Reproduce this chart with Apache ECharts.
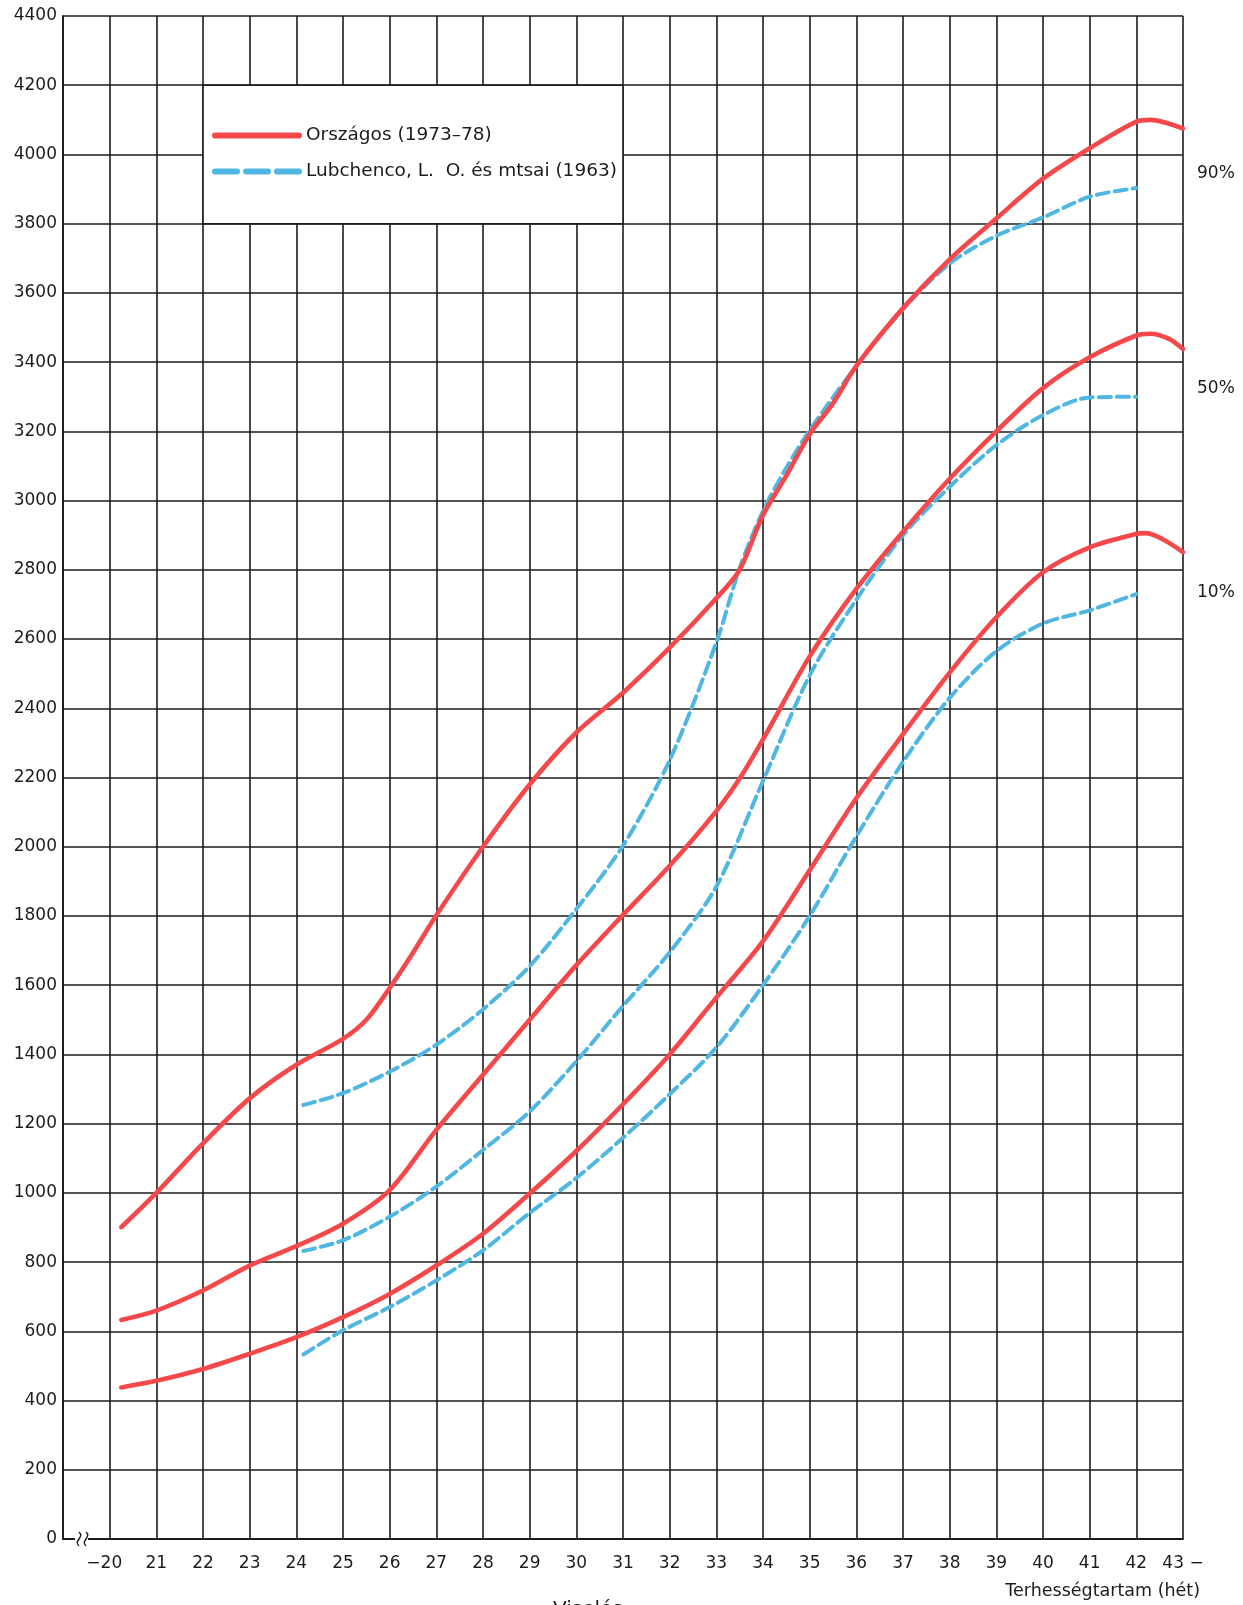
<!DOCTYPE html>
<html>
<head>
<meta charset="utf-8">
<script src="https://cdn.jsdelivr.net/npm/echarts@6/dist/echarts.min.js"></script>
<style>
html,body{margin:0;padding:0;background:#ffffff;}
#chart{width:1243px;height:1605px;}
</style>
</head>
<body>
<div id="chart"></div>
<script>
// ---- data (weeks of gestation -> birth weight, g) ----
const redName = 'Országos (1973–78)';
const blueName = 'Lubchenco, L.  O. és mtsai (1963)';

const red90Weeks = [20.25,21,22,23,24,25,25.5,26,26.5,27,28,29,30,31,32,33,33.5,34,34.5,35,35.5,36,37,38,39,40,41,42,42.3,43];
const red90 = [901,1000,1143,1273,1370,1445,1500,1592,1694,1802,2000,2180,2330,2445,2575,2718,2800,2958,3072,3192,3281,3389,3556,3697,3815,3930,4018,4095,4100,4075];

const red50Weeks = [20.25,21,22,23,24,25,26,27,28,29,30,31,32,33,33.5,34,35,36,37,38,39,40,41,42,42.3,42.7,43];
const red50 = [633,660,718,790,846,911,1008,1182,1341,1500,1658,1803,1945,2103,2197,2310,2550,2745,2910,3063,3200,3325,3414,3477,3482,3467,3438];

const red10Weeks = [20.25,21,22,23,24,25,26,27,28,29,30,31,32,33,34,35,36,37,38,39,40,41,42,42.2,43];
const red10 = [438,457,491,535,583,641,708,790,882,998,1121,1256,1400,1564,1727,1932,2140,2325,2503,2663,2793,2865,2904,2906,2851];

const blue90Weeks = [24.15,25,26,27,28,29,30,31,32,33,33.5,34,34.5,35,36,37,38,39,40,41,42];
const blue90 = [1254,1288,1350,1428,1530,1655,1820,2003,2250,2590,2805,2970,3095,3203,3389,3553,3685,3765,3818,3878,3903];

const blue50Weeks = [24.15,25,26,27,28,29,30,31,32,33,34,35,36,37,38,39,40,41,42];
const blue50 = [832,863,931,1018,1124,1235,1380,1540,1695,1885,2190,2495,2714,2900,3040,3160,3247,3298,3300];

const blue10Weeks = [24.15,25,26,27,28,29,30,31,32,33,34,35,36,37,38,39,40,41,42];
const blue10 = [533,603,670,747,834,942,1043,1159,1285,1420,1600,1800,2030,2245,2430,2565,2645,2683,2730];

const pctLabels = ['90%','50%','10%'];
const pctLabelValues = [3945, 3325, 2735];
const pctLabelWeek = 43;

const legendBox = [[22, 4200], [31, 3800]];

// ---- styling ----
const RED = '#f5484a';
const BLUE = '#4fb7e2';
const INK = '#1c1c1c';
const FONT = 'DejaVu Sans';

function pairs(w, v){ return w.map((x,i)=>[x, v[i]]); }

function mk(name, weeks, vals, color, dashed, idx){
  const s = {
    type:'line', name: name, data: pairs(weeks, vals),
    symbol:'none', showSymbol:false, smooth:0.3, silent:true,
    lineStyle:{color: color, width: dashed ? 4 : 4.6, type: dashed ? [12,6] : 'solid', cap:'round'},
    itemStyle:{color: color},
    z: dashed ? 3 : 4
  };
  if (!dashed) {
    s.markPoint = {
      silent:true, symbol:'circle', symbolSize:0,
      itemStyle:{color:'rgba(0,0,0,0)'},
      data:[{coord:[pctLabelWeek, pctLabelValues[idx]]}],
      label:{show:true, position:'right', distance:14, formatter: pctLabels[idx],
             color: INK, fontSize:17, fontFamily: FONT}
    };
  }
  return s;
}

const series = [
  mk(blueName, blue90Weeks, blue90, BLUE, true),
  mk(blueName, blue50Weeks, blue50, BLUE, true),
  mk(blueName, blue10Weeks, blue10, BLUE, true),
  mk(redName, red90Weeks, red90, RED, false, 0),
  mk(redName, red50Weeks, red50, RED, false, 1),
  mk(redName, red10Weeks, red10, RED, false, 2)
];
series[0].markArea = {
  silent:true,
  itemStyle:{color:'#ffffff', borderColor: INK, borderWidth:1.6},
  data:[[{coord: legendBox[0]}, {coord: legendBox[1]}]]
};

const noSym = {color:'rgba(0,0,0,0)', borderColor:'rgba(0,0,0,0)', borderWidth:0};

const chart = echarts.init(document.getElementById('chart'), null, {renderer:'canvas'});
chart.setOption({
  animation:false,
  backgroundColor:'#ffffff',
  grid:{left:63, right:60, top:16, bottom:66, containLabel:false},
  legend:{
    orient:'vertical', left:207, top:121, itemWidth:84, itemHeight:14, itemGap:17,
    selectedMode:false,
    textStyle:{fontSize:18.5, color: INK, fontFamily: FONT, padding:[0,0,0,2]},
    data:[
      {name: redName, lineStyle:{width:6}, itemStyle: noSym},
      {name: blueName, lineStyle:{width:6, type:[22,9]}, itemStyle: noSym}
    ]
  },
  xAxis:{
    type:'value', min:19, max:43, interval:1,
    axisLine:{show:true, onZero:false, lineStyle:{color: INK, width:1.8}},
    axisTick:{show:false},
    splitLine:{show:true, lineStyle:{color: INK, width:1.6}},
    axisLabel:{
      margin:16, color: INK, fontSize:17, fontFamily: FONT,
      formatter: function(v){
        if (v === 19) return '';
        if (v === 20) return '\u221220\u2007';
        if (v === 43) return '43 \u2212';
        return String(v);
      }
    }
  },
  yAxis:{
    type:'value', min:0, max:4400, interval:200,
    axisLine:{show:true, lineStyle:{color: INK, width:1.8}},
    axisTick:{show:false},
    splitLine:{show:true, lineStyle:{color: INK, width:1.6}},
    axisLabel:{margin:6, color: INK, fontSize:17, fontFamily: FONT,
      formatter: function(v){ return String(v); }}
  },
  graphic:[
    {type:'text', right:43, top:1582,
     style:{text:'Terhességtartam (hét)', fill: INK, font:'17.5px "DejaVu Sans"'}},
    {type:'text', left:553, top:1600,
     style:{text:'Viselés', fill: INK, font:'20px "DejaVu Sans"'}},
    {type:'rect', shape:{x:75, y:1535, width:13, height:8}, style:{fill:'#ffffff'}, z:10},
    {type:'bezierCurve', shape:{x1:79, y1:1546, cpx1:73, cpy1:1541, cpx2:85, cpy2:1537, x2:79, y2:1532},
     style:{stroke: INK, lineWidth:1.4, fill:null}, z:11},
    {type:'bezierCurve', shape:{x1:86, y1:1546, cpx1:80, cpy1:1541, cpx2:92, cpy2:1537, x2:86, y2:1532},
     style:{stroke: INK, lineWidth:1.4, fill:null}, z:11}
  ],
  series: series
});
</script>
</body>
</html>
